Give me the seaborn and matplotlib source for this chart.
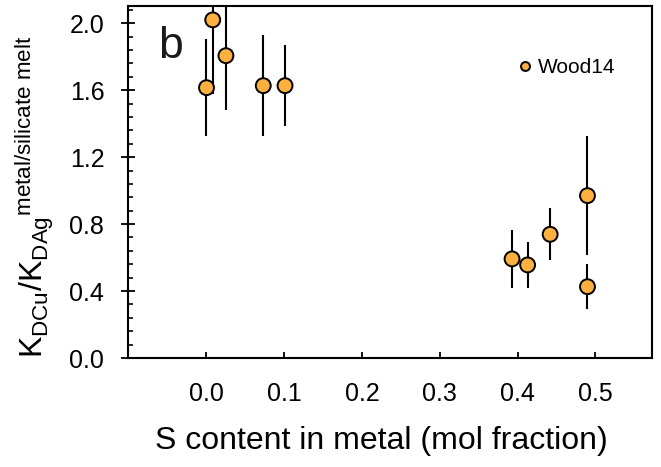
import numpy as np
import pandas as pd
import matplotlib
matplotlib.use('Agg')
import matplotlib.pyplot as plt
from matplotlib.ticker import MultipleLocator, AutoMinorLocator
import seaborn as sns

# S content in metal (mol fraction) and KD(Cu)/KD(Ag) with 1-sigma errors
s_content = [0.000, 0.008, 0.025, 0.073, 0.101, 0.393, 0.413, 0.442, 0.490, 0.490]
kd_ratio = [1.615, 2.020, 1.806, 1.627, 1.627, 0.592, 0.556, 0.739, 0.970, 0.426]
kd_err = [0.29, 0.445, 0.325, 0.30, 0.24, 0.175, 0.136, 0.155, 0.357, 0.135]
source = ['Wood14'] * len(s_content)

df = pd.DataFrame({'S': s_content, 'KD': kd_ratio, 'err': kd_err, 'src': source})

sns.set_theme(style='ticks')
plt.rcParams['font.family'] = ['Liberation Sans', 'DejaVu Sans']
plt.rcParams['mathtext.fontset'] = 'custom'
plt.rcParams['mathtext.rm'] = 'Liberation Sans'
plt.rcParams['mathtext.it'] = 'Liberation Sans:italic'
plt.rcParams['text.color'] = 'black'
plt.rcParams['axes.labelcolor'] = 'black'

fig = plt.figure(figsize=(6.61, 4.67), dpi=100)
ax = fig.add_axes([0.1936, 0.2334, 0.9864 - 0.1936, 0.9872 - 0.2334])

ax.errorbar(df['S'], df['KD'], yerr=df['err'], fmt='none', ecolor='black',
            elinewidth=1.5, capsize=0, zorder=1)
sns.scatterplot(data=df, x='S', y='KD', hue='src', palette=['#FBB040'],
                s=115, edgecolor='black', linewidth=1.4, zorder=3, ax=ax)

ax.set_xlim(-0.101, 0.573)
ax.set_ylim(0, 2.103)
ax.yaxis.set_minor_locator(AutoMinorLocator(5))
ax.set_xticks([0.0, 0.1, 0.2, 0.3, 0.4, 0.5])
ax.set_xticklabels(['0.0', '0.1', '0.2', '0.3', '0.4', '0.5'])
ax.set_yticks([0.0, 0.4, 0.8, 1.2, 1.6, 2.0])
ax.set_yticklabels(['0.0', '0.4', '0.8', '1.2', '1.6', '2.0'])

ax.tick_params(axis='x', which='major', direction='in', length=4, width=1.3,
               pad=17, labelsize=18, color='black', labelcolor='black')
ax.tick_params(axis='y', which='major', direction='inout', length=10, width=1.3,
               pad=12, labelsize=18, color='black', labelcolor='black')
ax.tick_params(axis='y', which='minor', direction='in', length=3.6, width=1.2,
               color='black')
for sp in ax.spines.values():
    sp.set_linewidth(1.5)
    sp.set_color('black')

ax.set_xlabel('S content in metal (mol fraction)', fontsize=23, labelpad=15)
ax.xaxis.label.set_x(0.484)
ax.set_ylabel(r'$\mathrm{K_{DCu}/K_{DAg}{}^{metal/silicate\ melt}}$',
              fontsize=23, labelpad=10)
ax.yaxis.label.set_y(0.459)

ax.text(0.058, 0.852, 'b', transform=ax.transAxes, fontsize=32,
        ha='left', va='baseline', color='#1a1a1a')

leg = ax.legend(loc='center left', bbox_to_anchor=(0.748, 0.825), frameon=False,
                borderpad=0, borderaxespad=0, handlelength=0.5, handletextpad=0.35,
                markerscale=0.6, fontsize=15, title=None)
for t in leg.get_texts():
    t.set_color('black')

fig.savefig('out.png', dpi=100)
